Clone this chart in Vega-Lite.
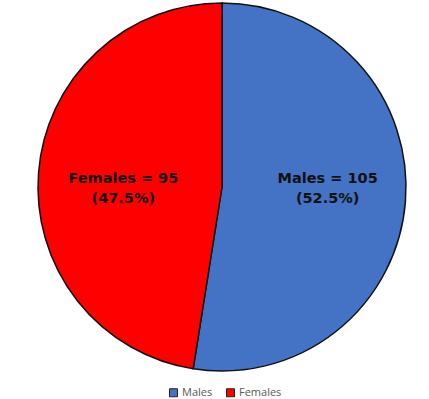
{
  "$schema": "https://vega.github.io/schema/vega-lite/v6.json",
  "width": 414,
  "height": 374,
  "autosize": "none",
  "padding": {"left": 15, "top": 0, "right": 0, "bottom": 25},
  "background": "white",
  "data": {
    "values": [
      {"sex": "Males", "count": 105, "label": "Males = 105\n(52.5%)"},
      {"sex": "Females", "count": 95, "label": "Females = 95\n(47.5%)"}
    ]
  },
  "encoding": {
    "theta": {"field": "count", "type": "quantitative", "stack": true},
    "order": {"field": "sex", "type": "nominal", "sort": "descending"}
  },
  "layer": [
    {
      "mark": {"type": "arc", "radius": 184, "stroke": "#111111", "strokeWidth": 1.5},
      "encoding": {
        "color": {
          "field": "sex",
          "type": "nominal",
          "scale": {"domain": ["Males", "Females"], "range": ["#4472C4", "#FF0000"]},
          "legend": {
            "title": null,
            "orient": "none",
            "direction": "horizontal",
            "legendX": 153,
            "legendY": 387,
            "symbolType": "square",
            "symbolSize": 64,
            "symbolStrokeColor": "#222222",
            "symbolStrokeWidth": 1,
            "labelFont": "Open Sans",
            "labelFontSize": 11,
            "labelColor": "#595959",
            "labelOffset": 3,
            "columnPadding": 11
          }
        }
      }
    },
    {
      "mark": {
        "type": "text",
        "radius": 106,
        "font": "DejaVu Sans",
        "fontSize": 14.5,
        "fontWeight": "bold",
        "color": "#111111",
        "lineBreak": "\n",
        "lineHeight": 20,
        "dx": {"expr": "datum.sex === 'Males' ? 0 : 7"},
        "dy": {"expr": "datum.sex === 'Males' ? -16 : 0"}
      },
      "encoding": {
        "text": {"field": "label", "type": "nominal"}
      }
    }
  ]
}
